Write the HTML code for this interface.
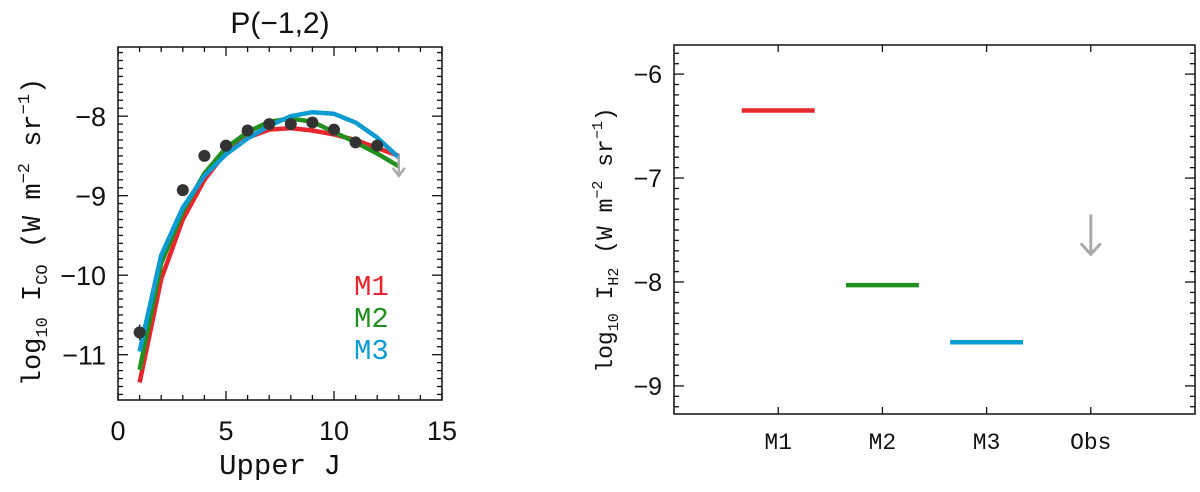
<!DOCTYPE html>
<html><head><meta charset="utf-8"><style>
body{margin:0;background:#fff;width:1200px;height:487px;overflow:hidden}
svg text{font-family:"Liberation Sans",sans-serif;fill:#111}
.mono{font-family:"Liberation Mono",monospace}
</style></head><body>
<svg id="c" width="1200" height="487" xmlns="http://www.w3.org/2000/svg"></svg>
<script>
const jVals=[1,2,3,4,5,6,7,8,9,10,11,12,13];
const m1=[-11.35,-10.05,-9.3,-8.8,-8.45,-8.27,-8.17,-8.15,-8.18,-8.23,-8.3,-8.4,-8.5];
const m2=[-11.19,-9.85,-9.2,-8.72,-8.4,-8.2,-8.07,-8.03,-8.07,-8.2,-8.33,-8.47,-8.63];
const m3=[-10.96,-9.75,-9.15,-8.75,-8.48,-8.28,-8.12,-8.0,-7.95,-7.97,-8.08,-8.27,-8.52];
const obsJ=[1,3,4,5,6,7,8,9,10,11,12];
const obsV=[-10.72,-8.93,-8.5,-8.37,-8.18,-8.1,-8.1,-8.08,-8.17,-8.33,-8.37];
const obsErr=[0.1,0.07,0.03,0.03,0.03,0.03,0.03,0.03,0.03,0.03,0.03];
const limJ=13, limV=-8.5;
const xTicksL=[0,5,10,15], yTicksL=[-8,-9,-10,-11];
const cats=["M1","M2","M3","Obs"];
const h2Vals=[-6.35,-8.03,-8.58];
const h2Limit=-7.35;
const yTicksR=[-6,-7,-8,-9];
const colors=["#e8262b","#22901f","#0a9bd3"];

const svg=document.getElementById('c');
const NS="http://www.w3.org/2000/svg";
function mk(t,a,p){const e=document.createElementNS(NS,t);for(const k in a)e.setAttribute(k,a[k]);(p||svg).appendChild(e);return e;}
const L={x0:118,x1:442,y0:47,y1:400,xmin:0,xmax:15,ymin:-11.57,ymax:-7.13};
const lx=v=>L.x0+(v-L.xmin)/(L.xmax-L.xmin)*(L.x1-L.x0);
const ly=v=>L.y1-(v-L.ymin)/(L.ymax-L.ymin)*(L.y1-L.y0);
const gL=mk('g',{});
let b=mk('rect',{x:L.x0,y:L.y0,width:L.x1-L.x0,height:L.y1-L.y0,fill:'none',stroke:'#111','stroke-width':1.5},gL);

for(let v=0;v<=15;v++){const big=v%5==0;const l=big?9:5;
 mk('line',{x1:lx(v),x2:lx(v),y1:L.y1,y2:L.y1-l,stroke:'#111','stroke-width':1.3},gL);
 mk('line',{x1:lx(v),x2:lx(v),y1:L.y0,y2:L.y0+l,stroke:'#111','stroke-width':1.3},gL);}
for(let k=-115;k<=-72;k++){const v=k/10;const big=k%10==0;const l=big?10:5;
 mk('line',{x1:L.x0,x2:L.x0+l,y1:ly(v),y2:ly(v),stroke:'#111','stroke-width':1.3},gL);
 mk('line',{x1:L.x1,x2:L.x1-l,y1:ly(v),y2:ly(v),stroke:'#111','stroke-width':1.3},gL);}
xTicksL.forEach(v=>{const t=mk('text',{x:lx(v),y:440,'text-anchor':'middle','font-size':27},gL);t.textContent=v;
 });
yTicksL.forEach(v=>{const t=mk('text',{x:106,y:ly(v)+10,'text-anchor':'end','font-size':27},gL);t.textContent='\u2212'+Math.abs(v);
 });
[m1,m2,m3].forEach((s,i)=>{const p=mk('polyline',{points:jVals.map((j,k)=>lx(j)+','+ly(s[k])).join(' '),fill:'none',stroke:colors[i],'stroke-width':4.5,'stroke-linejoin':'round'},gL);
 });
obsJ.forEach((j,k)=>{mk('line',{x1:lx(j),x2:lx(j),y1:ly(obsV[k]-obsErr[k]),y2:ly(obsV[k]+obsErr[k]),stroke:'#333','stroke-width':1.5},gL);
 const c=mk('circle',{cx:lx(j),cy:ly(obsV[k]),r:6,fill:'#333'},gL);});
const ax=lx(limJ),ay=ly(limV);
let ar=mk('path',{d:`M${ax},${ay} V${ay+20} M${ax-6},${ay+12} L${ax},${ay+20} L${ax+6},${ay+12}`,fill:'none',stroke:'#aaa','stroke-width':2.5},gL);

["M1","M2","M3"].forEach((n,i)=>{const t=mk('text',{x:354,y:295+i*32,'font-size':29,class:'mono'},gL);t.textContent=n;t.style.fill=colors[i];
 });
let t=mk('text',{x:280,y:33,'text-anchor':'middle','font-size':30});t.textContent='P(\u22121,2)';
t=mk('text',{x:280,y:474,'text-anchor':'middle','font-size':29,class:'mono'});t.textContent='Upper J';
t=mk('text',{x:0,y:0,'text-anchor':'middle','font-size':27,transform:'translate(40,232) rotate(-90)',class:'mono'});
t.innerHTML='log<tspan font-size="17" dy="7">10</tspan><tspan dy="-7"> I</tspan><tspan font-size="17" dy="7">CO</tspan><tspan dy="-7"> (W m</tspan><tspan font-size="17" dy="-11">\u22122</tspan><tspan dy="11"> sr</tspan><tspan font-size="17" dy="-11">\u22121</tspan><tspan dy="11">)</tspan>';

const R={x0:674,x1:1195,y0:45,y1:414,xmin:0,xmax:5,ymin:-9.27,ymax:-5.72};
const rx=v=>R.x0+(v-R.xmin)/(R.xmax-R.xmin)*(R.x1-R.x0);
const ry=v=>R.y1-(v-R.ymin)/(R.ymax-R.ymin)*(R.y1-R.y0);
const gR=mk('g',{});
b=mk('rect',{x:R.x0,y:R.y0,width:R.x1-R.x0,height:R.y1-R.y0,fill:'none',stroke:'#111','stroke-width':1.5},gR);

for(let k=-92;k<=-58;k++){const v=k/10;const big=k%10==0;const l=big?10:5;
 mk('line',{x1:R.x0,x2:R.x0+l,y1:ry(v),y2:ry(v),stroke:'#111','stroke-width':1.3},gR);
 mk('line',{x1:R.x1,x2:R.x1-l,y1:ry(v),y2:ry(v),stroke:'#111','stroke-width':1.3},gR);}
cats.forEach((c,i)=>{const x=rx(i+1);
 mk('line',{x1:x,x2:x,y1:R.y1,y2:R.y1-7,stroke:'#111','stroke-width':1.3},gR);
 mk('line',{x1:x,x2:x,y1:R.y0,y2:R.y0+7,stroke:'#111','stroke-width':1.3},gR);
 const tt=mk('text',{x:x,y:449,'text-anchor':'middle','font-size':23,class:'mono'},gR);tt.textContent=c;
 });
yTicksR.forEach(v=>{const tt=mk('text',{x:662,y:ry(v)+9,'text-anchor':'end','font-size':25},gR);tt.textContent='\u2212'+Math.abs(v);
 });
h2Vals.forEach((v,i)=>{const l=mk('line',{x1:rx(i+1)-0.35*104.2,x2:rx(i+1)+0.35*104.2,y1:ry(v),y2:ry(v),stroke:colors[i],'stroke-width':4.5},gR);
 });
const ox=rx(4),oy=ry(h2Limit);
ar=mk('path',{d:`M${ox},${oy} V${oy+40} M${ox-10},${oy+29} L${ox},${oy+40} L${ox+10},${oy+29}`,fill:'none',stroke:'#aaa','stroke-width':3},gR);

t=mk('text',{x:0,y:0,'text-anchor':'middle','font-size':23,transform:'translate(612,240) rotate(-90)',class:'mono'});
t.innerHTML='log<tspan font-size="15" dy="6">10</tspan><tspan dy="-6"> I</tspan><tspan font-size="15" dy="6">H2</tspan><tspan dy="-6"> (W m</tspan><tspan font-size="15" dy="-10">\u22122</tspan><tspan dy="10"> sr</tspan><tspan font-size="15" dy="-10">\u22121</tspan><tspan dy="10">)</tspan>';

</script>
</body></html>
